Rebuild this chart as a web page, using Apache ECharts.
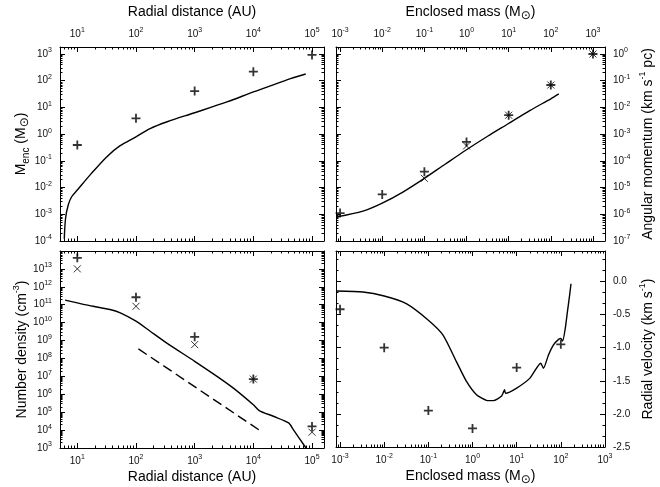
<!DOCTYPE html>
<html><head><meta charset="utf-8">
<script src="https://cdn.jsdelivr.net/npm/echarts@6/dist/echarts.min.js"></script>
<style>html,body{margin:0;padding:0;background:#fff}#c{width:660px;height:487px}</style>
</head><body><div id="c"></div>
<script>
// ---------- data ----------
// Panel A: enclosed mass vs radial distance
const radiusPts = [10, 100, 1000, 1e4, 1e5];
const massEncPts = [0.39, 3.9, 41, 217, 920];
const massCurveR = [6.0, 6.3, 7.0, 8.0, 10, 16.4, 31.6, 53, 100, 174, 340, 1000, 3550, 10000, 25000, 43000, 78000];
const massCurveM = [1.2e-4, 6.9e-4, 2.2e-3, 4.5e-3, 8e-3, 0.029, 0.14, 0.36, 0.79, 1.6, 2.9, 6.3, 16, 38, 78, 120, 178];
// Panel B: angular momentum vs enclosed mass
const angPlusM = [1e-3, 1e-2, 0.1, 1, 10, 100, 1000];
const angPlusJ = [1.1e-6, 5.5e-6, 3.9e-5, 5.1e-4, 5.1e-3, 0.069, 1.0];
const angCrossM = [0.1, 1, 10, 100, 1000];
const angCrossJ = [2.2e-5, 3.6e-4, 5.1e-3, 0.069, 1.0];
const angCurveM = [8.3e-4, 3.5e-3, 0.01, 0.0316, 0.1, 0.316, 1, 3.16, 10, 31.6, 100, 155];
const angCurveJ = [7.9e-7, 1.3e-6, 2.6e-6, 6.9e-6, 2.2e-5, 7.6e-5, 2.6e-4, 8.3e-4, 2.5e-3, 7.6e-3, 0.021, 0.032];
// Panel C: number density vs radial distance
const densPlusN = [4.1e13, 2.6e11, 1.6e9, 7e6, 1.6e4];
const densCrossN = [1e13, 8.1e10, 5.9e8, 7e6, 7.6e3];
const densCurveR = [6.2, 10, 18.6, 36, 54, 100, 174, 331, 1000, 2400, 4570, 10000, 12600, 21900, 40000, 48000, 79000];
const densCurveN = [1.8e11, 1.26e11, 8.1e10, 5.4e10, 3.5e10, 1.2e10, 3.3e9, 7.4e8, 6.9e7, 1e7, 2.2e6, 2.6e5, 1.23e5, 5.9e4, 2.5e4, 1.05e4, 1e3];
const dashR = [110, 12600];
const dashN = [3.4e8, 1e4];
// Panel D: radial velocity vs enclosed mass
const velPlusM = [1e-3, 1e-2, 0.1, 1, 10, 100];
const velPlusV = [-0.42, -1.0, -1.95, -2.22, -1.3, -0.95];
const velCurveM = [8.1e-4, 3.3e-3, 0.01, 0.0316, 0.1, 0.215, 0.432, 0.73, 1.23, 2.08, 2.95, 4.57, 5.33, 5.6, 10, 20, 35, 40.4, 52.5, 67.6, 89, 100, 110, 126, 141, 158, 170];
const velCurveV = [-0.145, -0.16, -0.22, -0.335, -0.585, -0.81, -1.21, -1.51, -1.71, -1.795, -1.8, -1.73, -1.635, -1.69, -1.61, -1.46, -1.235, -1.31, -1.11, -0.96, -0.875, -0.86, -0.9, -0.71, -0.46, -0.21, -0.035];
const velTicks = [-2.5, -2.0, -1.5, -1.0, -0.5, 0.0];

// ---------- helpers ----------
const FONT = '"Liberation Sans", Arial, Helvetica, sans-serif';
const nameRich = {
  m: {fontSize: 14, lineHeight: 20, fontFamily: FONT, color: '#000'},
  sub: {fontSize: 10, lineHeight: 12, verticalAlign: 'bottom', fontFamily: FONT, color: '#000'},
  sup: {fontSize: 9, lineHeight: 10, verticalAlign: 'top', fontFamily: FONT, color: '#000'},
  sun: {fontSize: 12, lineHeight: 14, verticalAlign: 'bottom', fontFamily: '"DejaVu Sans", sans-serif', color: '#000'}
};
const labRich = {
  n: {fontSize: 10, lineHeight: 14, fontFamily: FONT, color: '#111'},
  s: {fontSize: 7, lineHeight: 8, verticalAlign: 'top', fontFamily: FONT, color: '#111'}
};
function decades(lo, hi) {
  const out = [];
  for (let e = Math.ceil(Math.log10(lo) - 1e-9); e <= Math.floor(Math.log10(hi) + 1e-9); e++) out.push(Number('1e' + e));
  return out;
}
function minors(lo, hi) {
  const out = [];
  for (let e = Math.floor(Math.log10(lo)) - 1; e <= Math.ceil(Math.log10(hi)); e++)
    for (let k = 2; k <= 9; k++) { const v = Number(k + 'e' + e); if (v > lo && v < hi) out.push(v); }
  return out;
}
const logFmt = v => '{n|10}{s|' + Math.round(Math.log10(v)) + '}';
const linFmt = v => '{n|' + v.toFixed(1) + '}';
const zip = (a, b) => a.map((v, i) => [v, b[i]]);

const grids = [], xAxes = [], yAxes = [];
function makeAxes(list, g, sides, cfg) {
  let main = -1;
  sides.forEach(pos => {
    const lab = pos === cfg.labelPos;
    if (lab) main = list.length;
    list.push({
      gridIndex: g, position: pos, type: cfg.type, min: cfg.min, max: cfg.max, logBase: 10,
      axisLine: {show: true, onZero: false, lineStyle: {color: '#000', width: 1}},
      axisTick: {show: true, inside: true, length: 5, customValues: cfg.majors, lineStyle: {color: '#000', width: 1}},
      axisLabel: {show: lab, customValues: cfg.majors, formatter: cfg.fmt, margin: cfg.margin, rich: labRich},
      splitLine: {show: false}, minorTick: {show: false},
      name: lab ? cfg.name : '', nameLocation: 'middle', nameGap: cfg.nameGap, nameRotate: cfg.nameRotate,
      nameTextStyle: {rich: nameRich, color: '#000'}
    });
    list.push({
      gridIndex: g, position: pos, type: cfg.type, min: cfg.min, max: cfg.max, logBase: 10,
      axisLine: {show: false, onZero: false},
      axisTick: {show: true, inside: true, length: 2.5, customValues: cfg.minors, lineStyle: {color: '#000', width: 1}},
      axisLabel: {show: false}, splitLine: {show: false}
    });
  });
  return main;
}
function logCfg(min, max, labelPos, name, nameGap, margin, rot) {
  return {type: 'log', min, max, labelPos, name, nameGap, margin, nameRotate: rot,
    majors: decades(min, max), minors: minors(min, max), fmt: logFmt};
}

const series = [];
const PLUS = 'path://M5,0L5,10M0,5L10,5';
const CROSS = 'path://M0,0L10,10M10,0L0,10';
function scat(data, xi, yi, sym, size, w) {
  series.push({type: 'scatter', xAxisIndex: xi, yAxisIndex: yi, data, symbol: sym, symbolSize: size, silent: true, z: 4,
    itemStyle: {color: 'rgba(0,0,0,0)', borderColor: '#000', borderWidth: w}});
}
function line(data, xi, yi, type, smooth) {
  series.push({type: 'line', xAxisIndex: xi, yAxisIndex: yi, data, showSymbol: false, symbol: 'none', silent: true, z: 3,
    smooth: smooth || 0,
    lineStyle: {color: '#000', width: 1.4, type: type || 'solid'}});
}

const nmSun = '{m|Enclosed mass (M}{sun|⊙}{m|)}';
const nmDist = '{m|Radial distance (AU)}';

// Panel A (top-left)
grids.push({left: 60, top: 47, width: 264, height: 194});
let xa = makeAxes(xAxes, 0, ['top', 'bottom'], logCfg(5.07, 1.6e5, 'top', nmDist, 25, 6));
let ya = makeAxes(yAxes, 0, ['left', 'right'], logCfg(0.99e-4, 1830, 'left', '{m|M}{sub|enc}{m| (M}{sun|⊙}{m|)}', 28, 8, 90));
line(zip(massCurveR, massCurveM), xa, ya, 'solid', 0.3);
scat(zip(radiusPts, massEncPts), xa, ya, PLUS, 9, 1.8);

// Panel B (top-right)
grids.push({left: 336, top: 47, width: 269, height: 194});
let xb = makeAxes(xAxes, 1, ['top', 'bottom'], logCfg(8.0e-4, 1930, 'top', nmSun, 25, 6));
let yb = makeAxes(yAxes, 1, ['left', 'right'], logCfg(0.99e-7, 1.83, 'right', '{m|Angular momentum (km s}{sup|-1}{m| pc)}', 33, 8, 90));
line(zip(angCurveM, angCurveJ), xb, yb, 'solid', 0.3);
scat(zip(angPlusM, angPlusJ), xb, yb, PLUS, 9, 1.8);
scat(zip(angCrossM, angCrossJ), xb, yb, CROSS, 7, 1);

// Panel C (bottom-left)
grids.push({left: 60, top: 251, width: 264, height: 197});
let xc = makeAxes(xAxes, 2, ['bottom', 'top'], logCfg(5.07, 1.6e5, 'bottom', nmDist, 19, 6));
let yc = makeAxes(yAxes, 2, ['left', 'right'], logCfg(999, 0.99e14, 'left', '{m|Number density (cm}{sup|-3}{m|)}', 28, 8, 90));
line(zip(densCurveR, densCurveN), xc, yc, 'solid', 0.25);
line(zip(dashR, dashN), xc, yc, [10, 5]);
scat(zip(radiusPts, densPlusN), xc, yc, PLUS, 9, 1.8);
scat(zip(radiusPts, densCrossN), xc, yc, CROSS, 7, 1);

// Panel D (bottom-right)
grids.push({left: 336, top: 251, width: 269, height: 197});
let xd = makeAxes(xAxes, 3, ['bottom', 'top'], logCfg(8.1e-4, 1001, 'bottom', nmSun, 19, 6));
const velMinor = [];
for (let i = 0; i < velTicks.length; i++) {
  [1 / 3, 2 / 3].forEach(f => { const v = velTicks[i] + 0.5 * f; if (v < 0.46) velMinor.push(v); });
}
let yd = makeAxes(yAxes, 3, ['left', 'right'], {type: 'value', min: -2.5, max: 0.46, labelPos: 'right',
  name: '{m|Radial velocity (km s}{sup|-1}{m|)}', nameGap: 33, margin: 8, nameRotate: 90,
  majors: velTicks, minors: velMinor, fmt: linFmt});
line(zip(velCurveM, velCurveV), xd, yd, 'solid', 0.2);
scat(zip(velPlusM, velPlusV), xd, yd, PLUS, 9, 1.8);

const chart = echarts.init(document.getElementById('c'), null, {renderer: 'canvas'});
chart.setOption({
  animation: false,
  backgroundColor: '#fff',
  textStyle: {fontFamily: FONT},
  grid: grids, xAxis: xAxes, yAxis: yAxes, series
});
</script></body></html>
